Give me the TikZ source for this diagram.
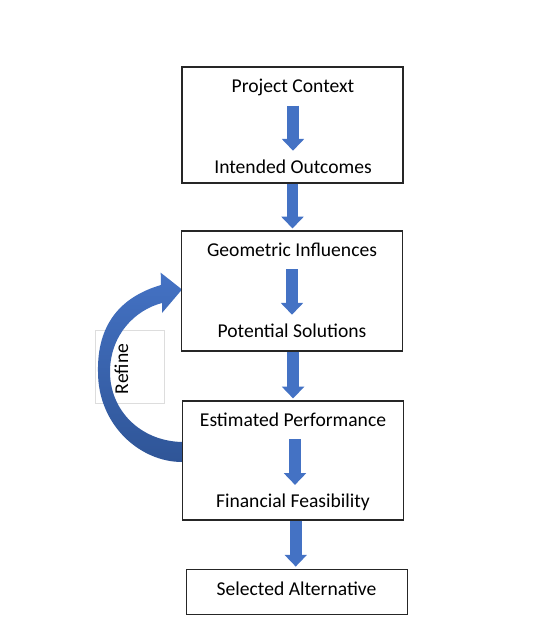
\documentclass[tikz,border=0pt]{standalone}
\usepackage{fontspec}
\setmainfont{Carlito}
\usetikzlibrary{arrows.meta}
\definecolor{arrowblue}{HTML}{4472C4}
\definecolor{darkblue}{HTML}{2F5597}
\definecolor{framegray}{HTML}{DDDDDD}

\begin{document}
\begin{tikzpicture}[x=0.75pt,y=0.75pt,yscale=-1,xscale=1,
    stagebox/.style={draw=black!85,line width=0.8pt,inner sep=0pt,minimum width=165.75pt},
    stagetext/.style={anchor=base,inner sep=0.75pt,font=\fontsize{14.7}{17}\selectfont,text height=11pt,text depth=3pt},
    flowarrow/.style={draw=arrowblue,line width=8.8pt,-{Triangle[length=8.8pt,width=16.3pt]}},
    innerarrow/.style={flowarrow,shorten <=5.5pt,shorten >=5pt},
    ]
    \useasboundingbox (0,0) rectangle (544,631);

    %Shape: Text Box behind the loop
    \node [draw=framegray,line width=0.5pt,fill=white,inner sep=0pt,minimum width=51.75pt,minimum height=54.75pt] (refinebox) at (129.5,366.5) {};

    %Curve Lines: Refine loop
    \shade [top color=arrowblue,bottom color=darkblue] (182,462) .. controls (140,462) and (98,425) .. (98,372) .. controls (97,325) and (120,297) .. (161,285) -- (160.7,272.7) -- (182,289.5) -- (162,313) -- (162,303) .. controls (135,310) and (110,335) .. (110,372) .. controls (110,410) and (140,441) .. (182,442) -- cycle;

    % Text Node
    \node [stagetext,rotate=90] (refine) at (128,369) {Refine};

    %Shape: Rectangles
    \node [stagebox,minimum height=87pt] (contextbox) at (292.5,125) {};
    \node [stagebox,minimum height=90pt] (geombox) at (292,291) {};
    \node [stagebox,minimum height=89.25pt] (perfbox) at (292.8,460.5) {};
    \node [stagebox,minimum width=165.5pt,minimum height=34.3pt] (selectbox) at (297,592) {};

    % Text Node
    \node [stagetext] (context) at (293,93) {Project Context};
    \node [stagetext] (outcomes) at (293,173.3) {Intended Outcomes};
    \node [stagetext] (geometric) at (292,256.7) {Geometric Influences};
    \node [stagetext] (solutions) at (292,337.3) {Potential Solutions};
    \node [stagetext] (performance) at (293,426.7) {Estimated Performance};
    \node [stagetext] (feasibility) at (293,507.5) {Financial Feasibility};
    \node [stagetext] (selected) at (296.5,595) {Selected Alternative};

    %Arrows inside the boxes
    \draw [innerarrow] (context.south) -- (outcomes.north);
    \draw [innerarrow] (geometric.south) -- (solutions.north);
    \draw [innerarrow] ([xshift=1.5pt]performance.south) -- ([xshift=1.5pt]feasibility.north);

    %Arrows between the boxes
    \draw [flowarrow,shorten >=1.5pt] (contextbox.south) -- (contextbox.south |- geombox.north);
    \draw [flowarrow,shorten >=1.5pt] ([xshift=0.8pt]geombox.south) -- ([xshift=0.8pt]geombox.south |- perfbox.north);
    \draw [flowarrow,shorten >=1.5pt] ([xshift=2.2pt]perfbox.south) -- ([xshift=2.2pt]perfbox.south |- selectbox.north);

\end{tikzpicture}
\end{document}
